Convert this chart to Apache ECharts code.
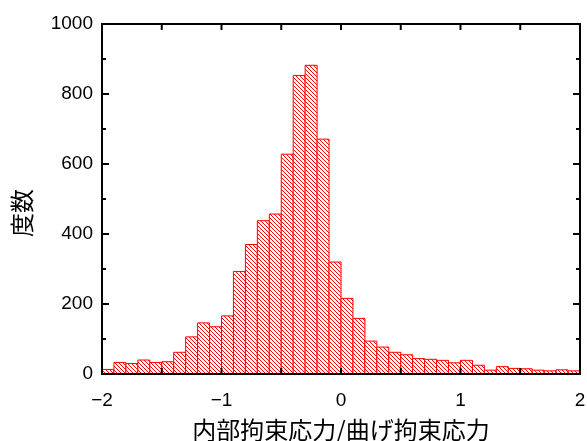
<!DOCTYPE html>
<html>
<head>
<meta charset="utf-8">
<script src="https://cdn.jsdelivr.net/npm/echarts@6/dist/echarts.min.js"></script>
<style>
html,body{margin:0;padding:0;background:#fff;}
#chart{width:587px;height:441px;}
</style>
</head>
<body>
<div id="chart"></div>
<script>
// Histogram data: bins of width 0.1 from -2 to 2
const binStart = -2.0;
const binWidth = 0.1;
const counts = [13,33,30,40,33,35,62,106,146,135,166,293,370,438,457,628,853,882,671,320,216,159,94,77,62,55,44,42,39,32,39,25,11,21,16,15,11,9,12,9];
const xTicks = [-2,-1,0,1,2];
const xTickMarks = [-2,-1.5,-1,-0.5,0,0.5,1,1.5,2];
const yTicks = [0,200,400,600,800,1000];
const yMinorTicks = [100,300,500,700,900];
const xName = '内部拘束応力/曲げ拘束応力';
const yName = '度数';

const xMin = xTicks[0], xMax = xTicks[xTicks.length - 1];
const yMin = yTicks[0], yMax = yTicks[yTicks.length - 1];

const data = counts.map((c, i) => {
  const x0 = +(binStart + i * binWidth).toFixed(2);
  const x1 = +(binStart + (i + 1) * binWidth).toFixed(2);
  return [x0, x1, c];
});

// hatch pattern "\" red
const tile = document.createElement('canvas');
tile.width = 4; tile.height = 4;
const tctx = tile.getContext('2d');
tctx.fillStyle = '#ffffff';
tctx.fillRect(0, 0, 4, 4);
tctx.fillStyle = '#ff0000';
for (let i = 0; i < 4; i++) tctx.fillRect(i, i, 1, 1);
const hatch = { image: tile, repeat: 'repeat' };

const chart = echarts.init(document.getElementById('chart'), null, { renderer: 'canvas' });
const fmtY = v => String(v);
const fmtX = v => (v < 0 ? '\u2212' + Math.abs(v) : String(v));
const labelFont = { color: '#000', fontSize: 19, fontFamily: '"Liberation Sans", Arial, sans-serif' };
const tickStyle = { stroke: '#000', lineWidth: 2 };

// tick marks on all four sides, positioned through the axes' scales
function xTickItem(params, api) {
  const v = api.value(0);
  const b = api.coord([v, yMin]);
  const t = api.coord([v, yMax]);
  const L = 6;
  return {
    type: 'group',
    children: [
      { type: 'line', shape: { x1: b[0], y1: b[1], x2: b[0], y2: b[1] - L }, style: tickStyle },
      { type: 'line', shape: { x1: t[0], y1: t[1], x2: t[0], y2: t[1] + L }, style: tickStyle }
    ]
  };
}
function yTickItem(params, api) {
  const v = api.value(1);
  const L = api.value(2) ? 7 : 4;
  const l = api.coord([xMin, v]);
  const r = api.coord([xMax, v]);
  return {
    type: 'group',
    children: [
      { type: 'line', shape: { x1: l[0], y1: l[1], x2: l[0] + L, y2: l[1] }, style: tickStyle },
      { type: 'line', shape: { x1: r[0], y1: r[1], x2: r[0] - L, y2: r[1] }, style: tickStyle }
    ]
  };
}
const yTickData = yTicks.map(v => [xMin, v, 1]).concat(yMinorTicks.map(v => [xMin, v, 0]));

chart.setOption({
  backgroundColor: '#fff',
  animation: false,
  grid: { left: 102, right: 7, top: 24, bottom: 67, outerBoundsMode: 'none',
          show: true, borderColor: '#000', borderWidth: 2, backgroundColor: 'transparent' },
  xAxis: [{
    type: 'value', position: 'bottom', min: xMin, max: xMax, interval: 1,
    axisLine: { show: true, onZero: false, lineStyle: { color: '#000', width: 2 } },
    axisTick: { show: false },
    splitLine: { show: false },
    axisLabel: { show: true, margin: 17, formatter: fmtX, color: labelFont.color, fontSize: labelFont.fontSize, fontFamily: labelFont.fontFamily },
    name: xName, nameLocation: 'middle', nameGap: 44,
    nameTextStyle: { color: '#000', fontSize: 24, fontFamily: '"Noto Sans CJK JP", sans-serif' }
  }],
  yAxis: [{
    type: 'value', position: 'left', min: yMin, max: yMax, interval: 200,
    axisLine: { show: true, onZero: false, lineStyle: { color: '#000', width: 2 } },
    axisTick: { show: false },
    splitLine: { show: false },
    axisLabel: { show: true, margin: 9, formatter: fmtY, color: labelFont.color, fontSize: labelFont.fontSize, fontFamily: labelFont.fontFamily }
  }],
  graphic: [{
    type: 'text', x: 22, y: 213, rotation: Math.PI / 2,
    style: { text: yName, fill: '#000', fontSize: 24, fontFamily: '"Noto Sans CJK JP", sans-serif', align: 'center', verticalAlign: 'middle' }
  }],
  series: [{
    type: 'custom', z: -1,
    encode: { x: [0, 1], y: 2 },
    data: data,
    renderItem: function (params, api) {
      const p0 = api.coord([api.value(0), api.value(2)]);
      const p1 = api.coord([api.value(1), 0]);
      return {
        type: 'rect',
        shape: { x: p0[0], y: p0[1], width: p1[0] - p0[0], height: p1[1] - p0[1] },
        style: { fill: hatch, stroke: '#ff0000', lineWidth: 1 }
      };
    }
  }, {
    type: 'custom', z: 5, silent: true,
    encode: { x: 0, y: 1 },
    data: xTickMarks.map(v => [v, yMin]),
    renderItem: xTickItem
  }, {
    type: 'custom', z: 5, silent: true,
    encode: { x: 0, y: 1 },
    data: yTickData,
    renderItem: yTickItem
  }]
});
</script>
</body>
</html>
